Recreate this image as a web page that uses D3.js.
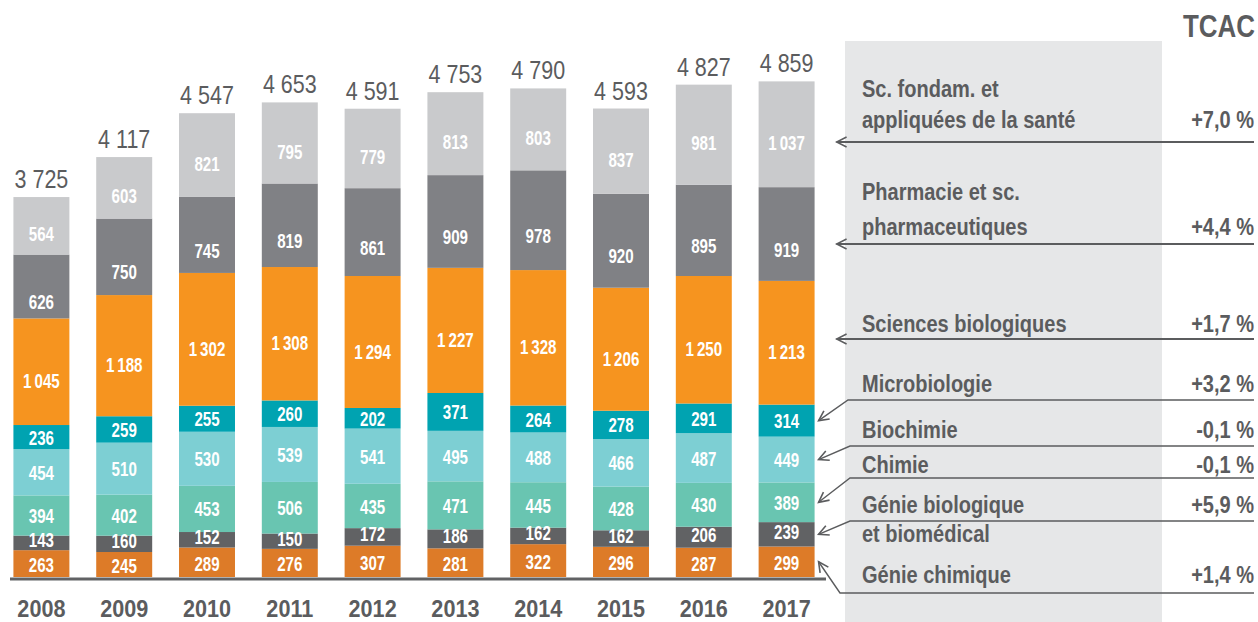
<!DOCTYPE html>
<html lang="fr">
<head>
<meta charset="utf-8">
<title>Effectifs par discipline, 2008-2017</title>
<script src="https://cdn.jsdelivr.net/npm/d3@7"></script>
<style>
  html, body { margin: 0; padding: 0; background: #ffffff; }
  svg { display: block; }
  text { font-family: "Liberation Sans", Arial, sans-serif; }
</style>
</head>
<body>
<svg id="chart" width="1258" height="622"></svg>
<script>
// Years on the horizontal axis
const years = ["2008", "2009", "2010", "2011", "2012", "2013", "2014", "2015", "2016", "2017"];

// Disciplines, stacked from the bottom of each bar to the top
const disciplines = [
  "Génie chimique",
  "Génie biologique et biomédical",
  "Chimie",
  "Biochimie",
  "Microbiologie",
  "Sciences biologiques",
  "Pharmacie et sc. pharmaceutiques",
  "Sc. fondam. et appliquées de la santé"
];

// Values per discipline, one per year
const genieChimique       = [263, 245, 289, 276, 307, 281, 322, 296, 287, 299];
const genieBiologique     = [143, 160, 152, 150, 172, 186, 162, 162, 206, 239];
const chimie              = [394, 402, 453, 506, 435, 471, 445, 428, 430, 389];
const biochimie           = [454, 510, 530, 539, 541, 495, 488, 466, 487, 449];
const microbiologie       = [236, 259, 255, 260, 202, 371, 264, 278, 291, 314];
const sciencesBiologiques = [1045, 1188, 1302, 1308, 1294, 1227, 1328, 1206, 1250, 1213];
const pharmacie           = [626, 750, 745, 819, 861, 909, 978, 920, 895, 919];
const scFondamentales     = [564, 603, 821, 795, 779, 813, 803, 837, 981, 1037];

// Totals printed above each bar
const totals = [3725, 4117, 4547, 4653, 4591, 4753, 4790, 4593, 4827, 4859];

// Compound annual growth rate (TCAC) per discipline
const tcac = ["+1,4 %", "+5,9 %", "-0,1 %", "-0,1 %", "+3,2 %", "+1,7 %", "+4,4 %", "+7,0 %"];

// Legend wording, one line per entry
const legendLines = [
  ["Génie chimique"],
  ["Génie biologique", "et biomédical"],
  ["Chimie"],
  ["Biochimie"],
  ["Microbiologie"],
  ["Sciences biologiques"],
  ["Pharmacie et sc.", "pharmaceutiques"],
  ["Sc. fondam. et", "appliquées de la santé"]
];

const seriesValues = [genieChimique, genieBiologique, chimie, biochimie,
                      microbiologie, sciencesBiologiques, pharmacie, scFondamentales];

// ---- styling -------------------------------------------------------------
const colors = ["#dd7b28", "#616264", "#69c5b1", "#7dcfd3", "#00a3b1", "#f6941f", "#808185", "#c9cacc"];
const labelShift = [1, -3, 0, 0, 0, 9, 15, 8];   // small vertical nudge of segment labels
const ink = "#5b5c5e";

// Legend row geometry: text baselines, leader line y, elbow x (null = straight arrow)
const legendLayout = [
  { base: [583],      rate: 583, lead: 593, elbow: 840 },
  { base: [513, 542], rate: 513, lead: 521, elbow: 850 },
  { base: [473],      rate: 473, lead: 478, elbow: 850 },
  { base: [438],      rate: 438, lead: 446, elbow: 850 },
  { base: [392],      rate: 392, lead: 400, elbow: 848 },
  { base: [332],      rate: 332, lead: 339, elbow: null, w: 2 },
  { base: [200, 235], rate: 235, lead: 244, elbow: null, w: 2 },
  { base: [97, 128],  rate: 128, lead: 142, elbow: null, w: 2 }
];

// Squeeze text horizontally (condensed look from the installed sans):
// the anchor point moves into a transform and the glyphs are scaled in x.
function condense(sel, k) {
  sel.each(function () {
    const t = d3.select(this);
    const px = +t.attr("x") || 0;
    const py = +t.attr("y") || 0;
    t.attr("x", 0).attr("y", 0)
     .attr("transform", `translate(${px},${py}) scale(${k},1)`);
  });
}

// ---- data table ------------------------------------------------------------
const table = years.map((yr, i) => {
  const row = { year: yr };
  disciplines.forEach((d, k) => { row[d] = seriesValues[k][i]; });
  return row;
});
const stacked = d3.stack().keys(disciplines)(table);

const fmt = v => d3.format(",")(v).replace(/,/g, "\u2009");
const fmtTotal = v => d3.format(",")(v).replace(/,/g, " ");

// ---- scales ----------------------------------------------------------------
const svg = d3.select("#chart");
const x = d3.scaleBand().domain(years).range([0, 828]).paddingInner(0.324).paddingOuter(0.162);
const y = d3.scaleLinear().domain([0, 5000]).range([577, 67]);

// Grey panel behind the legend
svg.append("rect")
  .attr("x", 845).attr("y", 41).attr("width", 317).attr("height", 581)
  .attr("fill", "#e6e7e8");

// Column header
svg.append("text")
  .attr("x", 1255).attr("y", 37)
  .attr("text-anchor", "end")
  .attr("font-size", 32).attr("font-weight", "bold")
  .attr("fill", ink)
  .text("TCAC")
  .call(condense, 0.81);

// ---- bars --------------------------------------------------------------------
const layers = svg.append("g").selectAll("g")
  .data(stacked)
  .join("g")
  .attr("fill", (d, k) => colors[k]);

layers.selectAll("rect")
  .data(d => d)
  .join("rect")
  .attr("x", d => x(d.data.year))
  .attr("width", x.bandwidth())
  .attr("y", d => y(d[1]))
  .attr("height", d => y(d[0]) - y(d[1]));

// Segment values
const labels = svg.append("g")
  .attr("text-anchor", "middle")
  .attr("font-weight", "bold")
  .attr("font-size", 21)
  .attr("fill", "#ffffff");

stacked.forEach((layer, k) => {
  labels.selectAll(null)
    .data(layer)
    .join("text")
    .attr("x", d => x(d.data.year) + x.bandwidth() / 2)
    .attr("y", d => (y(d[0]) + y(d[1])) / 2 + labelShift[k])
    .attr("dy", "0.36em")
    .text(d => fmt(d[1] - d[0]))
    .call(condense, 0.72);
});

// Totals above bars
svg.append("g")
  .attr("text-anchor", "middle")
  .attr("font-size", 25)
  .attr("fill", ink)
  .selectAll("text")
  .data(years)
  .join("text")
  .attr("x", d => x(d) + x.bandwidth() / 2)
  .attr("y", (d, i) => y(totals[i]) - 9)
  .text((d, i) => fmtTotal(totals[i]))
  .call(condense, 0.86);

// Baseline
svg.append("line")
  .attr("x1", 10).attr("x2", 826)
  .attr("y1", 579).attr("y2", 579)
  .attr("stroke", "#616264").attr("stroke-width", 3);

// Year axis
const xAxis = svg.append("g")
  .attr("transform", "translate(0,579)")
  .call(d3.axisBottom(x).tickSize(0).tickPadding(0));
xAxis.select(".domain").remove();
xAxis.selectAll("text")
  .attr("dy", null)
  .attr("y", 38)
  .attr("font-size", 23)
  .attr("font-weight", "bold")
  .attr("font-family", null)
  .attr("fill", ink)
  .call(condense, 0.94);

// ---- legend ------------------------------------------------------------------
const defs = svg.append("defs");
defs.append("marker")
  .attr("id", "chevron")
  .attr("markerUnits", "userSpaceOnUse")
  .attr("viewBox", "-12 -7 14 14")
  .attr("markerWidth", 14).attr("markerHeight", 14)
  .attr("refX", 0).attr("refY", 0)
  .attr("orient", "auto")
  .append("path")
  .attr("d", "M-10,-5 L0,0 L-10,5")
  .attr("fill", "none")
  .attr("stroke", ink)
  .attr("stroke-width", 1.6);

const lastIdx = years.length - 1;
const barRight = x(years[lastIdx]) + x.bandwidth();

const legend = svg.append("g");
disciplines.forEach((d, k) => {
  const lay = legendLayout[k];
  legendLines[k].forEach((line, j) => {
    legend.append("text")
      .attr("x", 862).attr("y", lay.base[j])
      .attr("font-size", 23).attr("font-weight", "bold")
      .attr("fill", ink)
      .text(line)
      .call(condense, 0.87);
  });
  legend.append("text")
    .attr("x", 1254).attr("y", lay.rate)
    .attr("text-anchor", "end")
    .attr("font-size", 23).attr("font-weight", "bold")
    .attr("fill", ink)
    .text(tcac[k])
    .call(condense, 0.87);

  // Leader pointing at the 2017 segment
  const seg = stacked[k][lastIdx];
  let pts;
  if (lay.elbow === null) {
    pts = [[1254, lay.lead], [barRight + 22, lay.lead]];
  } else {
    const tipY = (y(seg[0]) + y(seg[1])) / 2;
    pts = [[1254, lay.lead], [lay.elbow, lay.lead], [barRight + 4, tipY]];
  }
  legend.append("path")
    .attr("d", d3.line()(pts))
    .attr("fill", "none")
    .attr("stroke", ink)
    .attr("stroke-width", lay.w || 1.4)
    .attr("marker-end", "url(#chevron)");
});
</script>
</body>
</html>
